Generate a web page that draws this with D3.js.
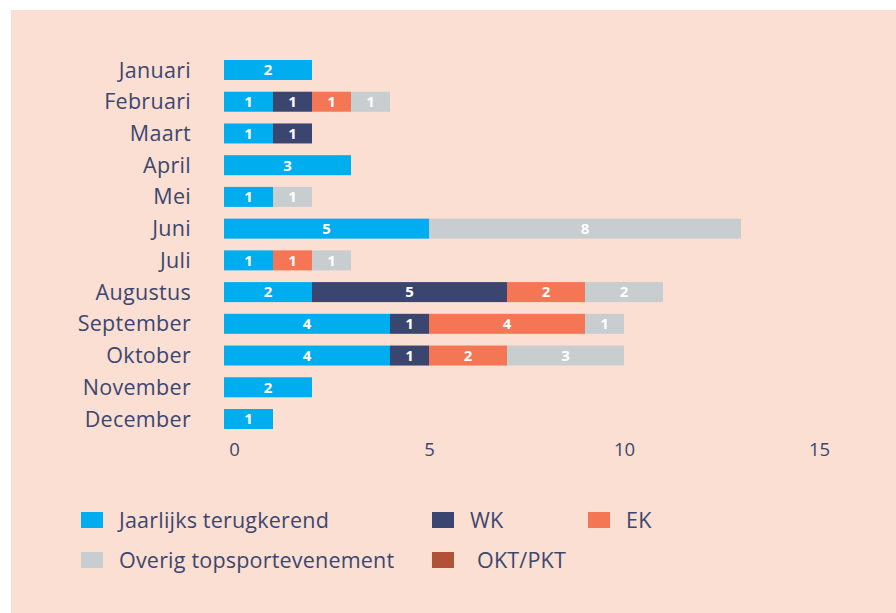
<!DOCTYPE html>
<html>
<head>
<meta charset="utf-8">
<script src="https://cdn.jsdelivr.net/npm/d3@7"></script>
<style>
  html, body { margin: 0; padding: 0; background: #ffffff; }
  svg { display: block; }
</style>
</head>
<body>
<svg id="chart" width="896" height="613"></svg>
<script>
const months = ["Januari","Februari","Maart","April","Mei","Juni","Juli","Augustus","September","Oktober","November","December"];
const seriesNames = ["Jaarlijks terugkerend","WK","EK","OKT/PKT","Overig topsportevenement"];
const jaarlijks = [2,1,1,3,1,5,1,2,4,4,2,1];
const wk        = [0,1,1,0,0,0,0,5,1,1,0,0];
const ek        = [0,1,0,0,0,0,1,2,4,2,0,0];
const oktpkt    = [0,0,0,0,0,0,0,0,0,0,0,0];
const overig    = [0,1,0,0,1,8,1,2,1,3,0,0];
const xTicks = [0,5,10,15];

const colors = {
  "Jaarlijks terugkerend": "#00aeef",
  "WK": "#3a4670",
  "EK": "#f47655",
  "OKT/PKT": "#b05236",
  "Overig topsportevenement": "#c8cdd0"
};
const textColor = "#3b4770";
const font = "'Open Sans', sans-serif";

const valuesBySeries = {
  "Jaarlijks terugkerend": jaarlijks,
  "WK": wk,
  "EK": ek,
  "OKT/PKT": oktpkt,
  "Overig topsportevenement": overig
};
const table = months.map((m, i) => {
  const row = { month: m };
  seriesNames.forEach(s => row[s] = valuesBySeries[s][i]);
  return row;
});
const stacked = d3.stack().keys(seriesNames)(table);

const svg = d3.select("#chart");
svg.append("rect").attr("x", 11).attr("y", 10).attr("width", 885).attr("height", 603).attr("fill", "#fbdfd2");

const x = d3.scaleLinear().domain([0, 15]).range([234, 819]);
const y = d3.scalePoint().domain(months).range([70, 419]);
const barH = 20;
const leadIn = 10;

// month labels
svg.append("g").selectAll("text").data(months).join("text")
  .attr("x", 191).attr("y", d => y(d)).attr("dy", "0.35em")
  .attr("text-anchor", "end")
  .attr("font-family", font).attr("font-size", 21.5).attr("fill", textColor)
  .attr("letter-spacing", 0.3)
  .text(d => d);

// bars
const segs = [];
stacked.forEach(layer => {
  layer.forEach((d, i) => {
    const v = d[1] - d[0];
    if (v > 0) segs.push({ key: layer.key, month: months[i], x0: d[0], x1: d[1], v });
  });
});
const segX0 = d => d.x0 === 0 ? x(0) - leadIn : x(d.x0);
svg.append("g").selectAll("rect").data(segs).join("rect")
  .attr("x", segX0)
  .attr("y", d => y(d.month) - barH / 2)
  .attr("width", d => x(d.x1) - segX0(d))
  .attr("height", barH)
  .attr("fill", d => colors[d.key]);
svg.append("g").selectAll("text").data(segs).join("text")
  .attr("x", d => (segX0(d) + x(d.x1)) / 2)
  .attr("y", d => y(d.month)).attr("dy", "0.36em")
  .attr("text-anchor", "middle")
  .attr("font-family", font).attr("font-size", 15).attr("font-weight", 700)
  .attr("fill", "#ffffff")
  .text(d => d.v);

// x axis ticks
const xAxis = d3.axisBottom(x).tickValues(xTicks).tickSize(0).tickPadding(0);
const gx = svg.append("g").attr("transform", "translate(0,443)").call(xAxis);
gx.select(".domain").remove();
gx.selectAll("text").attr("font-family", font).attr("font-size", 18.5).attr("fill", textColor);

// legend
const legendItems = [
  { name: "Jaarlijks terugkerend", lx: 81, ly: 520 },
  { name: "WK", lx: 432, ly: 520 },
  { name: "EK", lx: 588, ly: 520 },
  { name: "Overig topsportevenement", lx: 81, ly: 560 },
  { name: "OKT/PKT", lx: 432, ly: 560 }
];
const lg = svg.append("g").selectAll("g").data(legendItems).join("g")
  .attr("transform", d => `translate(${d.lx},${d.ly})`);
lg.append("rect").attr("x", 0).attr("y", -8).attr("width", 22).attr("height", 16)
  .attr("fill", d => colors[d.name]);
lg.append("text").attr("x", d => d.name === "OKT/PKT" ? 45 : 38).attr("y", 0).attr("dy", "0.35em")
  .attr("font-family", font).attr("font-size", 21.5).attr("fill", textColor)
  .attr("letter-spacing", 0.2)
  .text(d => d.name);
</script>
</body>
</html>
